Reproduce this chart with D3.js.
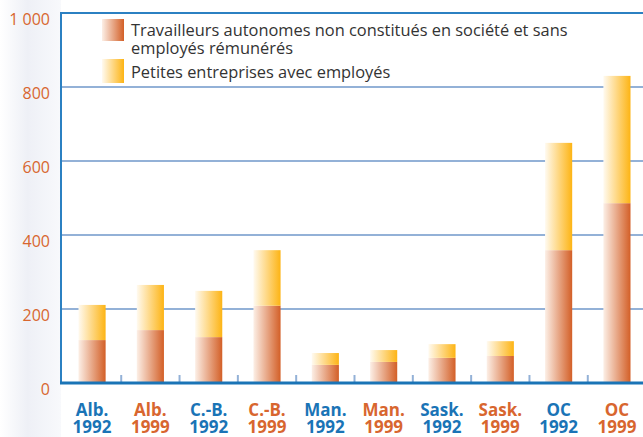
<!DOCTYPE html>
<html>
<head>
<meta charset="utf-8">
<script src="https://cdn.jsdelivr.net/npm/d3@7"></script>
<style>
  body { margin: 0; background: #fff; }
  svg { display: block; font-family: "Open Sans", sans-serif; }
</style>
</head>
<body>
<script>
// data (milliers)
const provinces = ["Alb.", "Alb.", "C.-B.", "C.-B.", "Man.", "Man.", "Sask.", "Sask.", "OC", "OC"];
const years = ["1992", "1999", "1992", "1999", "1992", "1999", "1992", "1999", "1992", "1999"];
const autonomes = [116, 143, 124, 209, 49, 57, 68, 73, 359, 486];
const entreprises = [95, 122, 125, 150, 32, 32, 37, 40, 290, 344];
const yTicks = [0, 200, 400, 600, 800, 1000];
const legendLabels = [
  ["Travailleurs autonomes non constitués en société et sans", "employés rémunérés"],
  ["Petites entreprises avec employés"]
];

const width = 643, height = 437;
const blue = "#1a74b6", orange = "#d8662f";

const svg = d3.select("body").append("svg")
  .attr("width", width).attr("height", height);

const defs = svg.append("defs");
function hGrad(id, c0, c1) {
  const g = defs.append("linearGradient").attr("id", id)
    .attr("x1", "0%").attr("x2", "100%").attr("y1", "0%").attr("y2", "0%");
  g.append("stop").attr("offset", "0%").attr("stop-color", c0);
  g.append("stop").attr("offset", "100%").attr("stop-color", c1);
}
hGrad("gAuto", "#fcefe6", "#d35f27");
hGrad("gEnt", "#fffaf0", "#fdb414");
const bg = defs.append("linearGradient").attr("id", "gBg")
  .attr("x1", "0%").attr("x2", "100%");
bg.append("stop").attr("offset", "0%").attr("stop-color", "#ffffff");
bg.append("stop").attr("offset", "45%").attr("stop-color", "#eef0f6");
bg.append("stop").attr("offset", "100%").attr("stop-color", "#f8f9fc");

// faint band behind the y labels
svg.append("rect").attr("x", 0).attr("y", 0).attr("width", 61).attr("height", height)
  .attr("fill", "url(#gBg)");

const x = d3.scaleBand()
  .domain(d3.range(provinces.length))
  .range([61, 648])
  .paddingInner(0.535)
  .paddingOuter(0.3);
const y = d3.scaleLinear().domain([0, 1000]).range([383, 13]);

// gridlines
svg.append("g").selectAll("line")
  .data(yTicks.filter(d => d > 0))
  .join("line")
  .attr("x1", 61).attr("x2", width)
  .attr("y1", d => y(d)).attr("y2", d => y(d))
  .attr("stroke", d => d === 1000 ? "#2b80c2" : "#93b1d7")
  .attr("stroke-width", 2);

// y labels hang just below their gridline
svg.append("g").selectAll("text")
  .data(yTicks)
  .join("text")
  .attr("x", 50).attr("y", d => y(d) + 12)
  .attr("text-anchor", "end")
  .attr("fill", orange)
  .style("font-size", "16px")
  .text(d => d3.format(",")(d).replace(",", " "));

// bars
const bars = svg.append("g");
bars.selectAll("rect.auto")
  .data(autonomes)
  .join("rect")
  .attr("class", "auto")
  .attr("x", (d, i) => x(i))
  .attr("width", x.bandwidth())
  .attr("y", d => y(d))
  .attr("height", d => y(0) - y(d))
  .attr("fill", "url(#gAuto)");
bars.selectAll("rect.ent")
  .data(entreprises)
  .join("rect")
  .attr("class", "ent")
  .attr("x", (d, i) => x(i))
  .attr("width", x.bandwidth())
  .attr("y", (d, i) => y(autonomes[i] + d))
  .attr("height", (d, i) => y(autonomes[i]) - y(autonomes[i] + d))
  .attr("fill", "url(#gEnt)");

// small ticks between the bars
const step = x.step();
svg.append("g").selectAll("line")
  .data(d3.range(1, provinces.length))
  .join("line")
  .attr("x1", i => x(i) - step * x.paddingInner() / 2)
  .attr("x2", i => x(i) - step * x.paddingInner() / 2)
  .attr("y1", y(0) - 8).attr("y2", y(0))
  .attr("stroke", "#93b1d7").attr("stroke-width", 2);

// axes lines
svg.append("line").attr("x1", 61).attr("x2", 61).attr("y1", y(1000) - 1).attr("y2", y(0))
  .attr("stroke", "#2b80c2").attr("stroke-width", 2);
svg.append("line").attr("x1", 60).attr("x2", width).attr("y1", y(0)).attr("y2", y(0))
  .attr("stroke", blue).attr("stroke-width", 3);

// x labels
const xl = svg.append("g").selectAll("text")
  .data(provinces)
  .join("text")
  .attr("text-anchor", "middle")
  .attr("fill", (d, i) => i % 2 === 0 ? blue : orange)
  .style("font-size", "17px")
  .style("font-weight", "bold");
xl.append("tspan").attr("x", (d, i) => x(i) + x.bandwidth() / 2).attr("y", 416).text(d => d);
xl.append("tspan").attr("x", (d, i) => x(i) + x.bandwidth() / 2).attr("y", 432.5).text((d, i) => years[i]);

// legend
const lg = svg.append("g");
lg.append("rect").attr("x", 102).attr("y", 19).attr("width", 22).attr("height", 22).attr("fill", "url(#gAuto)");
lg.append("rect").attr("x", 102).attr("y", 59).attr("width", 22).attr("height", 24).attr("fill", "url(#gEnt)");
const lt = lg.append("text").attr("fill", "#333").style("font-size", "16px");
lt.append("tspan").attr("x", 131).attr("y", 36).text(legendLabels[0][0]);
lt.append("tspan").attr("x", 131).attr("y", 54).text(legendLabels[0][1]);
lg.append("text").attr("fill", "#333").style("font-size", "16px")
  .attr("x", 131).attr("y", 78).text(legendLabels[1][0]);

// fit legend text width to the reference (~437px for the long line)
const first = lt.select("tspan").node();
const w = first.getComputedTextLength();
const fs = 16 * 437 / w;
lg.selectAll("text").style("font-size", fs + "px");
</script>
</body>
</html>
